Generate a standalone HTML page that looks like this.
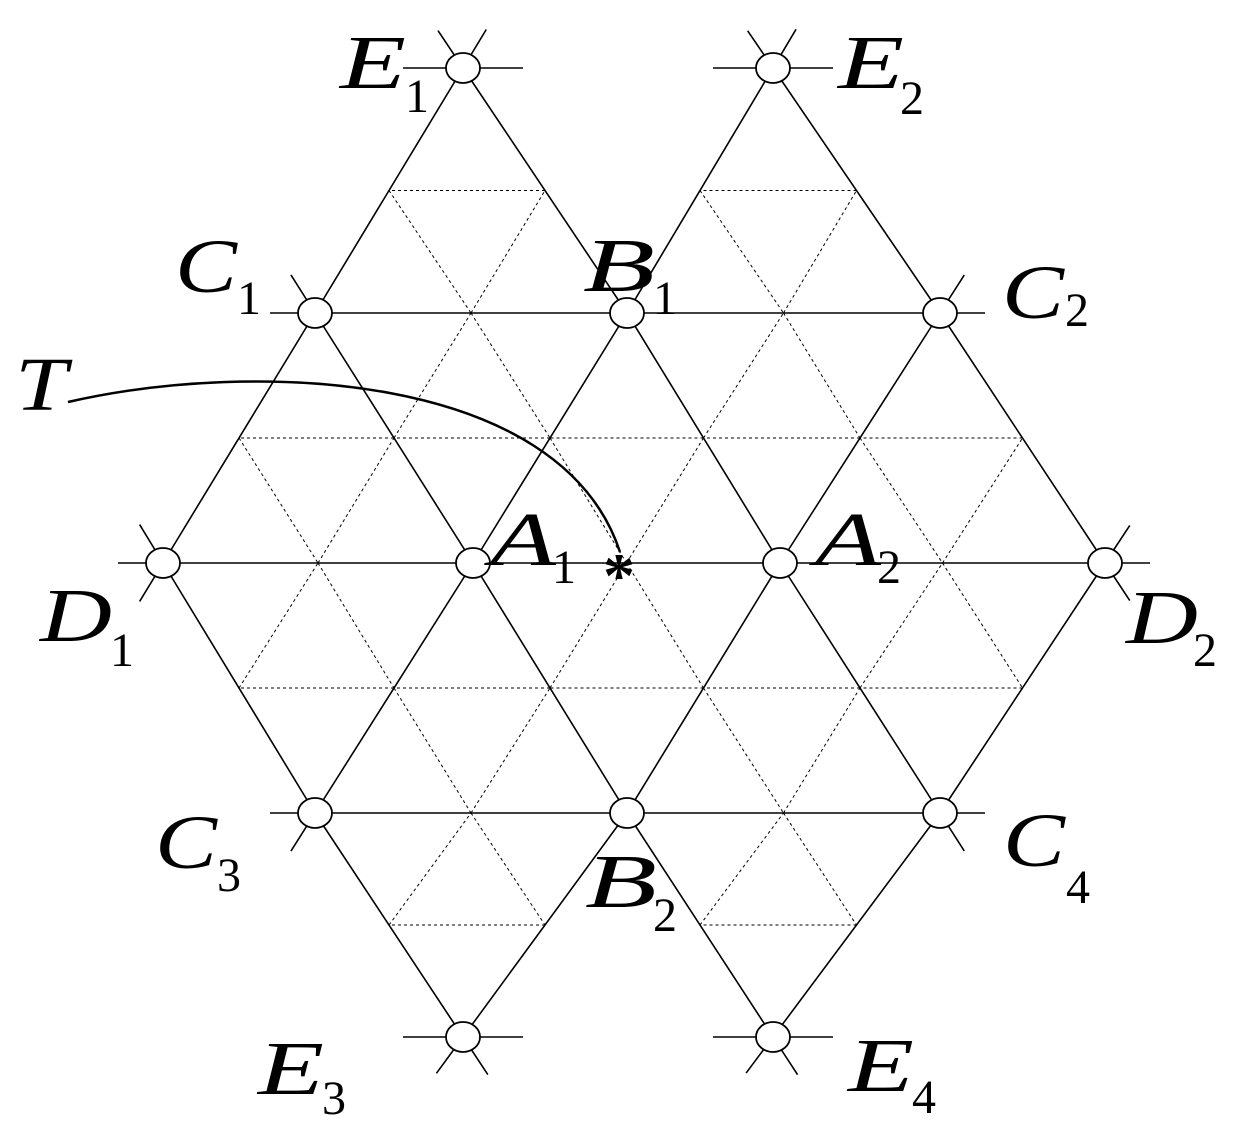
<!DOCTYPE html>
<html><head><meta charset="utf-8"><style>
html,body{margin:0;padding:0;background:#fff;}
svg{display:block;}
text{font-family:"Liberation Serif",serif;font-style:italic;fill:#000;}
.s{font-style:normal;}
</style></head><body>
<svg id="g" width="1237" height="1123" viewBox="0 0 1237 1123" xmlns="http://www.w3.org/2000/svg">
<g id="dots" stroke="#000" stroke-width="1" stroke-dasharray="3,3" fill="none"></g>
<g id="lines" stroke="#000" stroke-width="1.6" fill="none"></g>
<path d="M68,402 C250,360 560,370 620,552" stroke="#000" stroke-width="2.5" fill="none"/>
<g id="nodes" stroke="#000" stroke-width="1.8" fill="#fff"></g>
<text x="603" y="597" font-size="64" class="s" font-weight="bold">*</text>
<g font-size="76">
<text x="340" y="88" textLength="66" lengthAdjust="spacingAndGlyphs">E</text><text x="405" y="112" class="s" font-size="48">1</text>
<text x="838" y="88" textLength="66" lengthAdjust="spacingAndGlyphs">E</text><text x="900" y="114" class="s" font-size="48">2</text>
<text x="175" y="292" textLength="62" lengthAdjust="spacingAndGlyphs">C</text><text x="237" y="314" class="s" font-size="48">1</text>
<text x="583" y="291" textLength="72" lengthAdjust="spacingAndGlyphs">B</text><text x="653" y="314" class="s" font-size="48">1</text>
<text x="1002" y="318" textLength="62" lengthAdjust="spacingAndGlyphs">C</text><text x="1065" y="326" class="s" font-size="48">2</text>
<text x="15" y="410" textLength="52" lengthAdjust="spacingAndGlyphs">T</text>
<text x="490" y="565" textLength="66" lengthAdjust="spacingAndGlyphs">A</text><text x="552" y="583" class="s" font-size="48">1</text>
<text x="815" y="565" textLength="66" lengthAdjust="spacingAndGlyphs">A</text><text x="877" y="583" class="s" font-size="48">2</text>
<text x="40" y="641" textLength="72" lengthAdjust="spacingAndGlyphs">D</text><text x="110" y="666" class="s" font-size="48">1</text>
<text x="1126" y="643" textLength="72" lengthAdjust="spacingAndGlyphs">D</text><text x="1193" y="666" class="s" font-size="48">2</text>
<text x="155" y="868" textLength="62" lengthAdjust="spacingAndGlyphs">C</text><text x="217" y="891" class="s" font-size="48">3</text>
<text x="585" y="907" textLength="72" lengthAdjust="spacingAndGlyphs">B</text><text x="653" y="931" class="s" font-size="48">2</text>
<text x="1003" y="866" textLength="62" lengthAdjust="spacingAndGlyphs">C</text><text x="1066" y="903" class="s" font-size="48">4</text>
<text x="258" y="1094" textLength="66" lengthAdjust="spacingAndGlyphs">E</text><text x="322" y="1114" class="s" font-size="48">3</text>
<text x="848" y="1091" textLength="66" lengthAdjust="spacingAndGlyphs">E</text><text x="912" y="1113" class="s" font-size="48">4</text>
</g>
</svg>
<script>
var P={E1:[463,68],E2:[773,68],C1:[315,313],B1:[627,313],C2:[940,313],D1:[163,563],A1:[473,563],A2:[780,563],D2:[1105,563],C3:[315,813],B2:[627,813],C4:[940,813],E3:[463,1037],E4:[773,1037]};
var NS="http://www.w3.org/2000/svg";
function ln(g,a,b){var l=document.createElementNS(NS,"line");l.setAttribute("x1",a[0]);l.setAttribute("y1",a[1]);l.setAttribute("x2",b[0]);l.setAttribute("y2",b[1]);document.getElementById(g).appendChild(l);}
function ext(a,b,d){var dx=b[0]-a[0],dy=b[1]-a[1],L=Math.hypot(dx,dy);return [b[0]+dx/L*d,b[1]+dy/L*d];}
var polys=[["E1","C1","D1"],["E2","B1","A1","C3"],["C2","A2","B2","E3"],["D2","C4","E4"],["E1","B1","A2","C4"],["C1","A1","B2","E4"],["D1","C3","E3"],["E2","C2","D2"],["C1","B1","C2"],["D1","A1","A2","D2"],["C3","B2","C4"]];
polys.forEach(function(p){for(var i=0;i<p.length-1;i++)ln("lines",P[p[i]],P[p[i+1]]);
var s=ext(P[p[1]],P[p[0]],45),e=ext(P[p[p.length-2]],P[p[p.length-1]],45);ln("lines",P[p[0]],s);ln("lines",P[p[p.length-1]],e);});
["E1","E2","E3","E4"].forEach(function(k){ln("lines",[P[k][0]-60,P[k][1]],[P[k][0]+60,P[k][1]]);});
var tris=[["E1","C1","B1"],["E2","B1","C2"],["C1","B1","A1"],["B1","C2","A2"],["B1","A1","A2"],["C1","D1","A1"],["C2","A2","D2"],["D1","A1","C3"],["A1","A2","B2"],["A2","D2","C4"],["A1","C3","B2"],["A2","B2","C4"],["C3","B2","E3"],["B2","C4","E4"]];
function mid(a,b){return [(P[a][0]+P[b][0])/2,(P[a][1]+P[b][1])/2];}
tris.forEach(function(t){var m1=mid(t[0],t[1]),m2=mid(t[1],t[2]),m3=mid(t[2],t[0]);ln("dots",m1,m2);ln("dots",m2,m3);ln("dots",m3,m1);});
for(var k in P){var e=document.createElementNS(NS,"ellipse");e.setAttribute("cx",P[k][0]);e.setAttribute("cy",P[k][1]);e.setAttribute("rx",17);e.setAttribute("ry",15);document.getElementById("nodes").appendChild(e);}
</script>
</body></html>
